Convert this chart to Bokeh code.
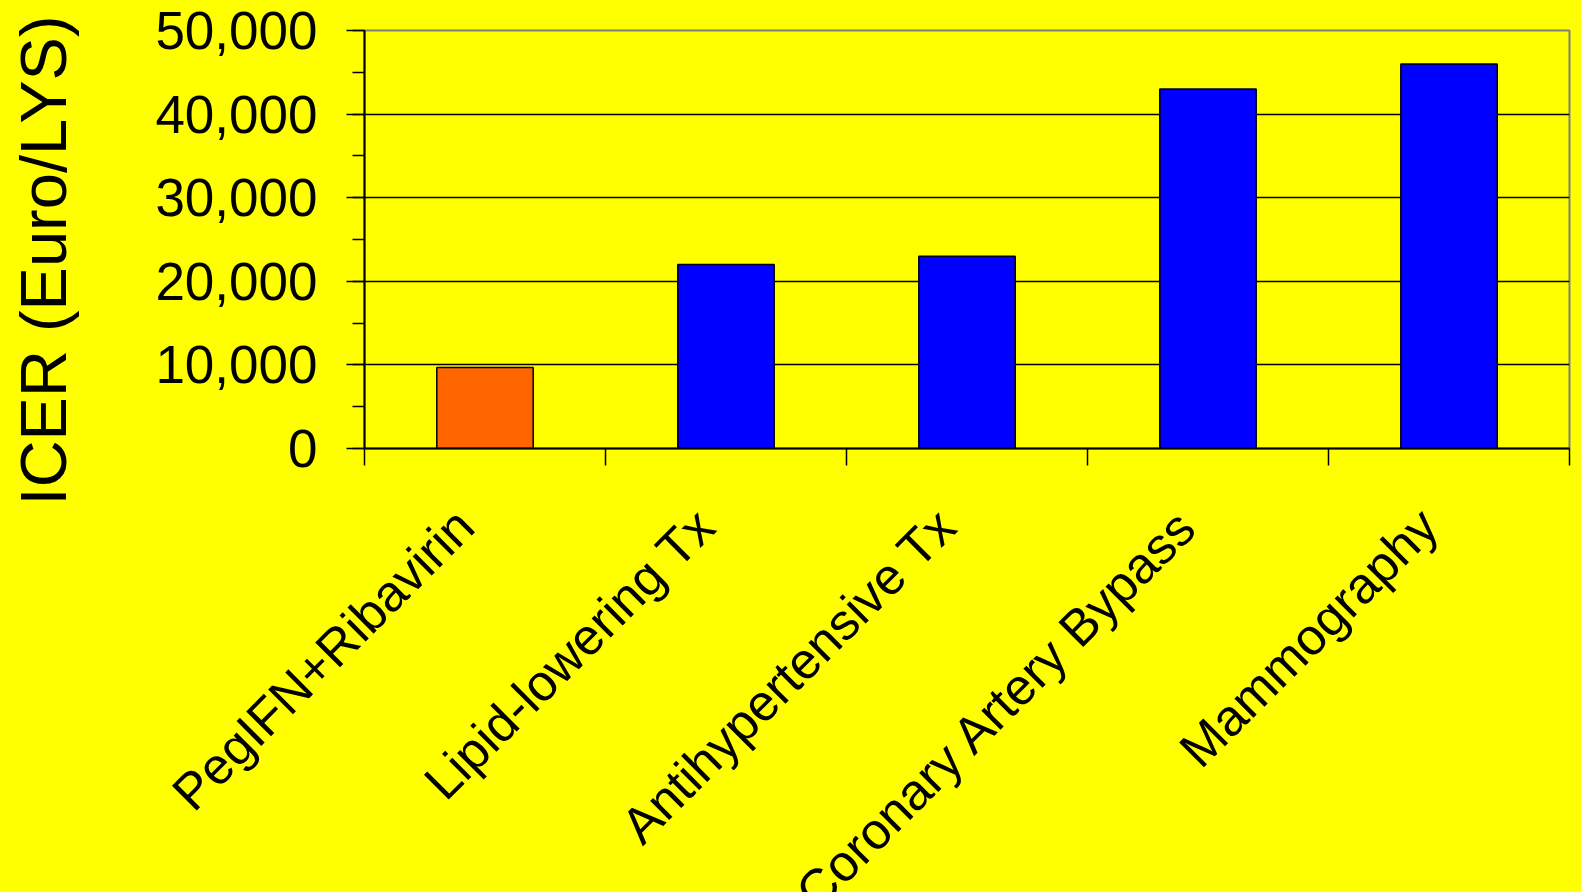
import math
from bokeh.plotting import figure
from bokeh.layouts import column
from bokeh.models import (ColumnDataSource, FixedTicker, NumeralTickFormatter,
                          Label, Range1d)
from bokeh.core.properties import value
from bokeh.embed import file_html
from bokeh.resources import INLINE

categories = ["PegIFN+Ribavirin", "Lipid-lowering Tx", "Antihypertensive Tx",
              "Coronary Artery Bypass", "Mammography"]
icer_values = [9700, 22000, 23000, 43000, 46000]
bar_colors = ["#FF6600", "#0000FF", "#0000FF", "#0000FF", "#0000FF"]
y_ticks = [0, 10000, 20000, 30000, 40000, 50000]
y_label = "ICER (Euro/LYS)"

FONT = "Liberation Sans"
BG = "#FFFF00"

# layout constants (pixels)
W = 1581
H = 892
LEFT, RIGHT, TOP = 364, 12, 30
FRAME_H = 418
TOP_H = 505          # height of the chart part
N = len(categories)

x_pos = [i + 0.5 for i in range(N)]
src = ColumnDataSource(dict(x=x_pos, top=icer_values, color=bar_colors,
                            name=categories))

p = figure(width=W, height=TOP_H, output_backend="svg", toolbar_location=None,
           x_range=Range1d(0, N), y_range=Range1d(0, 50000),
           min_border_left=LEFT, min_border_right=RIGHT, min_border_top=TOP,
           min_border_bottom=TOP_H - TOP - FRAME_H)
p.frame_align = False
p.background_fill_color = BG
p.border_fill_color = BG
p.outline_line_color = "#808080"
p.outline_line_width = 2

p.vbar(x="x", top="top", bottom=0, width=0.4, fill_color="color",
       line_color="black", line_width=1.5, source=src)

# y axis
ya = p.yaxis[0]
ya.ticker = FixedTicker(ticks=y_ticks, minor_ticks=list(range(0, 50001, 5000)))
ya.formatter = NumeralTickFormatter(format="0,0")
ya.major_label_text_font = FONT
ya.major_label_text_font_size = "53px"
ya.major_label_text_color = "black"
ya.major_label_standoff = 29
ya.major_tick_out = 18
ya.major_tick_in = 0
ya.minor_tick_out = 12
ya.minor_tick_in = 0
ya.axis_line_width = 2
ya.major_tick_line_width = 1.5
ya.minor_tick_line_width = 1.5
ya.axis_line_color = "black"

# x axis: ticks at category boundaries, labels drawn below
xa = p.xaxis[0]
xa.ticker = FixedTicker(ticks=list(range(0, N + 1)))
xa.major_label_text_font_size = "0px"
xa.major_label_text_alpha = 0
xa.major_label_standoff = 0
xa.major_tick_out = 17
xa.major_tick_in = 0
xa.minor_tick_out = 0
xa.minor_tick_in = 0
xa.axis_line_width = 2
xa.major_tick_line_width = 1.5
xa.axis_line_color = "black"

p.xgrid.visible = False
p.ygrid.ticker = FixedTicker(ticks=[10000, 20000, 30000, 40000])
p.ygrid.grid_line_color = "black"
p.ygrid.grid_line_width = 1.5

ylab = Label(x=-1.33, y=22500, text=y_label, angle=math.pi / 2,
             text_align="center", text_baseline="middle",
             text_font=FONT, text_font_size="65px", text_color="black")
p.add_layout(ylab, "left")

# category labels: a second panel whose x scale lines up with the chart's
unit = (W - LEFT - RIGHT) / N
H2 = H - TOP_H
p2 = figure(width=W, height=H2, output_backend="svg", toolbar_location=None,
            x_range=Range1d(-LEFT / unit, (W - LEFT) / unit),
            y_range=Range1d(-H2, 0),
            x_axis_location=None, y_axis_location=None,
            min_border_left=0, min_border_right=0, min_border_top=0,
            min_border_bottom=0)
p2.frame_align = False
p2.grid.visible = False
p2.outline_line_color = None
p2.background_fill_color = BG
p2.border_fill_color = BG
p2.text(x=x_pos, y=[-12] * N, text=categories, angle=math.pi / 4,
        x_offset=-20, text_align="right", text_baseline="middle",
        text_font=value(FONT), text_font_size="51px", text_color="black")

layout = column(p, p2, spacing=0, styles={"background-color": BG})
open("out.html", "w").write(file_html(layout, INLINE))
